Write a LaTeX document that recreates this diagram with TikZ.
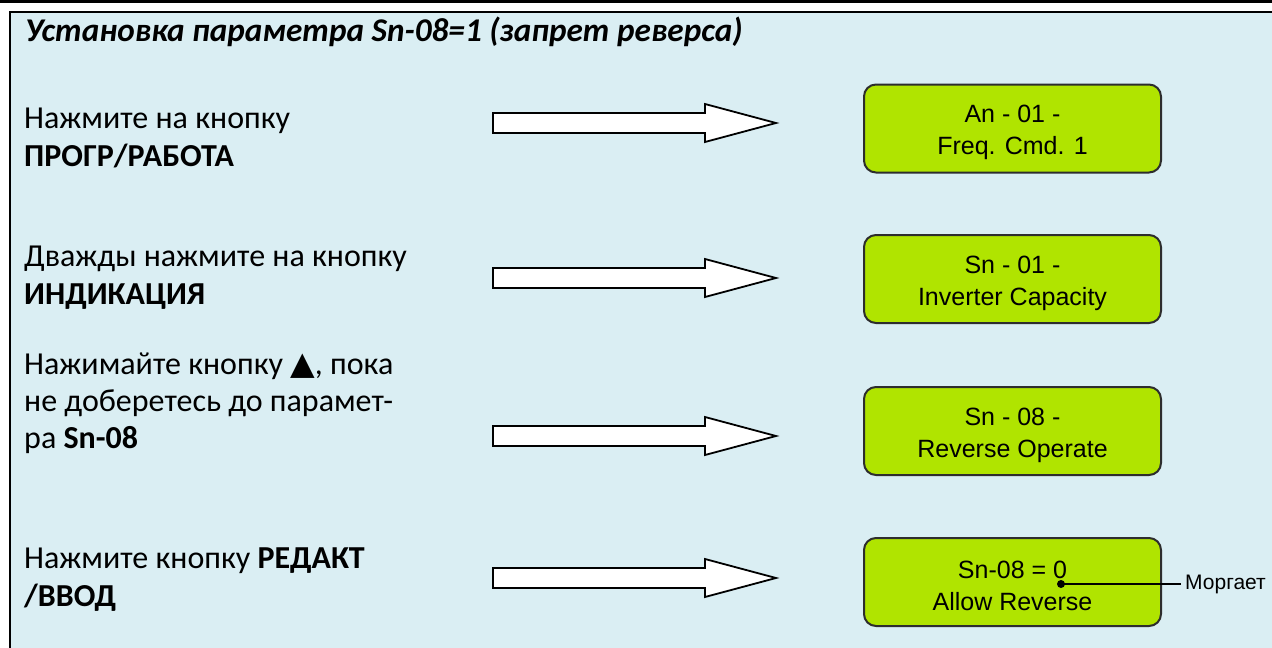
\documentclass[tikz,border=0pt]{standalone}
\usepackage{fontspec}
\setmainfont{Carlito}
\newfontfamily\lcdfont{Liberation Sans}
\newfontfamily\symfont{DejaVu Sans}
\definecolor{panelblue}{RGB}{218,238,243}
\definecolor{lcdgreen}{RGB}{176,228,0}
\definecolor{lcdedge}{RGB}{45,45,45}
\newcommand\blkarrow[2]{%
  \draw[blockarrow] (493,#2-10) -- (705,#2-10) -- (705,#2-19) -- (776,#2) coordinate (#1)
    -- (705,#2+19) -- (705,#2+10) -- (493,#2+10) -- cycle;}
\begin{document}
\begin{tikzpicture}[x=1pt,y=-1pt,
  lcd/.style={draw=lcdedge, line width=2pt, fill=lcdgreen, rounded corners=12pt,
    minimum width=297pt, minimum height=88pt, inner sep=0pt},
  lcdtxt/.style={align=center, inner sep=0pt, font=\lcdfont\fontsize{25}{32}\selectfont},
  body/.style={anchor=base west, inner sep=0pt, font=\fontsize{32}{38}\selectfont},
  blockarrow/.style={draw=black, line width=1.8pt, fill=white, line join=miter},
  note/.style={anchor=west, inner sep=0pt, font=\lcdfont\fontsize{21}{25}\selectfont}]
\useasboundingbox (0,0) rectangle (1272,648);
\fill[black] (0,0) rectangle (1272,2.5);
\fill[panelblue] (10,12) rectangle (1272,648);
\draw[line width=2.5pt] (10,648) -- (10,12) -- (1272,12);

\node[anchor=base west, inner sep=0pt, font=\bfseries\itshape\fontsize{33.2}{37}\selectfont] (title) at (25,41)
  {Установка параметра Sn-08=1 (запрет реверса)};

% step 1
\node[body] (t1a) at (24,128) {Нажмите на кнопку};
\node[body] (t1b) at (24,166) {\bfseries ПРОГР/РАБОТА};
% step 2
\node[body] (t2a) at (24,266) {Дважды нажмите на кнопку};
\node[body] (t2b) at (24,304) {\bfseries ИНДИКАЦИЯ};
% step 3
\node[body] (t3a) at (24,374) {Нажимайте кнопку {\symfont ▲}, пока};
\node[body] (t3b) at (24,411) {не доберетесь до парамет-};
\node[body] (t3c) at (24,448) {ра \textbf{Sn-08}};
% step 4
\node[body] (t4a) at (24,568) {Нажмите кнопку \textbf{РЕДАКТ}};
\node[body] (t4b) at (24,606) {\bfseries /ВВОД};

\blkarrow{a1}{123}
\blkarrow{a2}{278}
\blkarrow{a3}{436}
\blkarrow{a4}{578}

\node[lcd] (d1) at (1012.5,128.5) {};
\node[lcd] (d2) at (1012.5,279) {};
\node[lcd] (d3) at (1012.5,431) {};
\node[lcd] (d4) at (1012.5,582) {};
\node[lcdtxt] (d1t) at ([yshift=-4pt]d1.center) {An - 01 -\\Freq. Cmd. 1};
\node[lcdtxt] (d2t) at ([yshift=-4pt]d2.center) {Sn - 01 -\\Inverter Capacity};
\node[lcdtxt] (d3t) at ([yshift=-4pt]d3.center) {Sn - 08 -\\Reverse Operate};
\node[lcdtxt] (d4t) at ([yshift=-4pt]d4.center) {Sn-08 = 0\\Allow Reverse};

\coordinate (blink) at (1061,584);
\node[note] (mg) at (1185,584) {Моргает};
\fill (blink) circle (4pt);
\draw[line width=1.5pt] (blink) -- ([xshift=-4pt]mg.west);
\end{tikzpicture}
\end{document}
